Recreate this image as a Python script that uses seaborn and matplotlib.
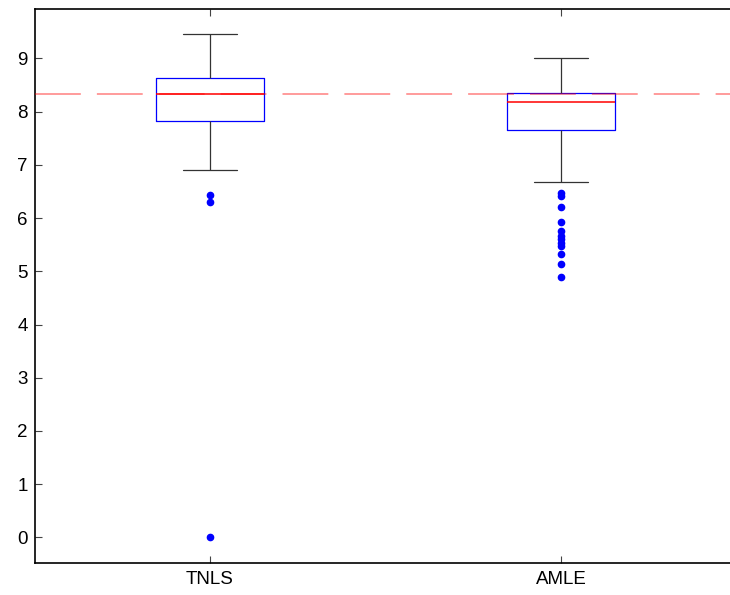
import pandas as pd
import matplotlib
matplotlib.use("Agg")
import matplotlib.pyplot as plt
import seaborn as sns

# values (outliers, whisker ends, quartiles, median)
methods = ["TNLS", "AMLE"]
tnls_values = [0.00, 6.30, 6.43, 6.90, 7.82, 7.95, 8.05, 8.20, 8.33,
               8.40, 8.47, 8.55, 8.63, 8.80, 9.00, 9.20, 9.45]
amle_values = [4.89, 5.13, 5.32, 5.47, 5.53, 5.60, 5.67, 5.75, 5.93, 6.21, 6.42, 6.47,
               6.67, 7.66,
               7.68, 7.73, 7.75, 7.81, 7.84, 7.88, 7.93, 7.97, 8.01, 8.07, 8.11, 8.15,
               8.18,
               8.19, 8.20, 8.22, 8.23, 8.25, 8.26, 8.27, 8.29, 8.30, 8.31, 8.32, 8.33,
               8.34,
               8.36, 8.39, 8.42, 8.46, 8.50, 8.55, 8.61, 8.67, 8.73, 8.81, 8.88, 8.95,
               9.01]
reference_value = 8.33
y_ticks = [0, 1, 2, 3, 4, 5, 6, 7, 8, 9]

df = pd.DataFrame({
    "method": ["TNLS"] * len(tnls_values) + ["AMLE"] * len(amle_values),
    "value": tnls_values + amle_values,
})

sns.set_style("ticks")
plt.rcParams["font.family"] = ["Liberation Sans", "DejaVu Sans"]

fig = plt.figure(figsize=(7.3, 5.95), dpi=100)
ax = fig.add_axes([34.5 / 730, 1 - 562.5 / 595, 702 / 730, 553.2 / 595])

sns.boxplot(
    data=df, x="method", y="value", order=methods,
    width=0.305, fill=False, whis=1.5, ax=ax,
    boxprops={"color": "#0000ff", "linewidth": 0.9},
    medianprops={"color": "#ff0000", "linewidth": 1.1},
    whiskerprops={"color": "#333333", "linewidth": 0.9, "linestyle": "-"},
    capprops={"color": "#333333", "linewidth": 0.9},
    flierprops={"marker": "o", "markerfacecolor": "#0000ff",
                "markeredgecolor": "#0000ff", "markersize": 4.5},
)

# dashed reference level across the whole axis
ax.axhline(reference_value, color="#ff0000", alpha=0.5, linewidth=1.1,
           dashes=(30, 10.5), zorder=5)

ax.set_xlim(-0.5, 1.5)
ax.set_ylim(-0.47, 9.92)
ax.set_yticks(y_ticks)
ax.set_xlabel("")
ax.set_ylabel("")

ax.tick_params(direction="in", length=5, width=0.8, colors="#444444",
               labelcolor="black", labelsize=13.5, pad=5, top=True)
ax.tick_params(axis="x", pad=6)
for side in ["left", "bottom", "top"]:
    ax.spines[side].set_visible(True)
    ax.spines[side].set_color("black")
    ax.spines[side].set_linewidth(1.2)
ax.spines["right"].set_visible(False)

plt.savefig("out.png", dpi=100)
